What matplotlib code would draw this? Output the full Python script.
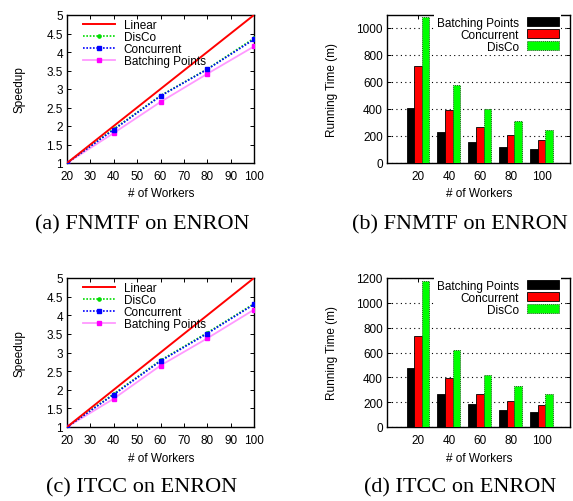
import matplotlib
matplotlib.use("Agg")
import matplotlib.pyplot as plt
import numpy as np

plt.rcParams['font.family'] = ['Liberation Sans', 'DejaVu Sans']

# ---------------- data ----------------
workers = [20, 40, 60, 80, 100]
worker_labels = ['20', '40', '60', '80', '100']

# speedup (a) FNMTF
lin_a = [1, 2, 3, 4, 5]
disco_a = [1, 1.92, 2.82, 3.54, 4.37]
conc_a = [1, 1.90, 2.81, 3.53, 4.34]
batch_a = [1, 1.81, 2.65, 3.41, 4.15]

# speedup (c) ITCC
lin_c = [1, 2, 3, 4, 5]
disco_c = [1, 1.89, 2.79, 3.53, 4.31]
conc_c = [1, 1.87, 2.77, 3.51, 4.29]
batch_c = [1, 1.76, 2.65, 3.38, 4.15]

# running time (b) FNMTF
batch_b = [406, 229, 153, 118, 101]
conc_b = [722, 389, 263, 204, 167]
disco_b = [1081, 581, 399, 308, 244]

# running time (d) ITCC
batch_d = [473, 269, 183, 140, 118]
conc_d = [734, 393, 264, 207, 175]
disco_d = [1173, 619, 422, 334, 269]

captions = ['(a) FNMTF on ENRON', '(b) FNMTF on ENRON',
            '(c) ITCC on ENRON', '(d) ITCC on ENRON']

W, H = 573, 502
fig = plt.figure(figsize=(W / 100, H / 100), dpi=100)

def rect(x0, x1, ytop, ybot):
    return [x0 / W, 1 - ybot / H, (x1 - x0) / W, (ybot - ytop) / H]

FS = 8.5

def style_ticks(ax):
    ax.tick_params(direction='in', length=3, width=0.7, top=True, right=True,
                   labelsize=FS)
    ax.tick_params(axis='x', pad=5)
    ax.tick_params(axis='y', pad=3)
    for s in ax.spines.values():
        s.set_linewidth(1.0)

def speedup(ax, lin, disco, conc, batch):
    ax.plot(workers, lin, color='#ff0000', lw=1.4, label='Linear', zorder=5)
    ax.plot(workers, disco, color='#00dd00', lw=1.2, ls=(0, (1, 1)),
            marker='o', ms=2.3, label='DisCo', zorder=4)
    ax.plot(workers, conc, color='#0000ff', lw=1.2, ls=(0, (1, 1)),
            marker='s', ms=2.3, label='Concurrent', zorder=4)
    ax.plot(workers, batch, color='#ff99ff', lw=1.3, marker='s', ms=3.5,
            mfc='#ff00ff', mec='#ff00ff', label='Batching Points', zorder=3)
    ax.set_xlim(20, 100)
    ax.set_ylim(1, 5)
    ax.set_xticks(np.arange(20, 101, 10))
    ax.set_yticks(np.arange(1, 5.01, 0.5))
    ax.set_yticklabels(['1', '1.5', '2', '2.5', '3', '3.5', '4', '4.5', '5'])
    style_ticks(ax)
    ax.set_xlabel('# of Workers', fontsize=FS)
    ax.xaxis.set_label_coords(0.505, -0.165)
    ax.set_ylabel('Speedup', fontsize=FS)
    ax.yaxis.set_label_coords(-0.222, 0.5)
    ax.legend(loc='upper left', bbox_to_anchor=(0.05, 1.02), frameon=False,
              fontsize=FS, handlelength=2.7, handletextpad=0.7,
              labelspacing=0.0, borderaxespad=0.2)

def runtime(ax, batch, conc, disco, ymax, yticks):
    x = np.arange(len(workers))
    w = 0.245
    ax.bar(x - w, batch, w, color='#000000', edgecolor='#000000', lw=0.6,
           label='Batching Points', zorder=3)
    ax.bar(x, conc, w, color='#ff0000', edgecolor='#000000', lw=0.6,
           label='Concurrent', zorder=3)
    ax.bar(x + w, disco, w, color='#00ff00', edgecolor='#1f5f1f', lw=0.7,
           ls=(0, (1, 1)), label='DisCo', zorder=3)
    ax.set_xlim(-1, 4.92)
    ax.set_ylim(0, ymax)
    ax.set_xticks(x)
    ax.set_xticklabels(worker_labels)
    ax.set_yticks(yticks)
    ax.yaxis.grid(True, color='#000000', ls=(0, (1, 3)), lw=0.8, zorder=0)
    ax.set_axisbelow(True)
    style_ticks(ax)
    ax.set_xlabel('# of Workers', fontsize=FS)
    ax.xaxis.set_label_coords(0.503, -0.165)
    ax.set_ylabel('Running Time (m)', fontsize=FS)
    ax.yaxis.set_label_coords(-0.27, 0.5)
    leg = ax.legend(loc='upper right', bbox_to_anchor=(0.965, 1.02), frameon=True,
                    fontsize=FS, markerfirst=False, handlelength=2.7,
                    handleheight=0.7, handletextpad=0.7, labelspacing=0.0,
                    borderaxespad=0.2, fancybox=False, borderpad=0.2)
    leg.get_frame().set_edgecolor('none')
    leg.get_frame().set_facecolor('white')
    leg.get_frame().set_alpha(1)

ax_a = fig.add_axes(rect(67, 254, 16, 164))
speedup(ax_a, lin_a, disco_a, conc_a, batch_a)
ax_b = fig.add_axes(rect(387, 570, 16, 164))
runtime(ax_b, batch_b, conc_b, disco_b, 1096, np.arange(0, 1001, 200))
ax_c = fig.add_axes(rect(67, 254, 279, 428))
speedup(ax_c, lin_c, disco_c, conc_c, batch_c)
ax_d = fig.add_axes(rect(387, 570, 279, 428))
runtime(ax_d, batch_d, conc_d, disco_d, 1200, np.arange(0, 1201, 200))

cap_pos = [(142, 225), (460, 225), (142, 488), (460, 488)]
for txt, (cx, cy) in zip(captions, cap_pos):
    fig.text(cx / W, 1 - cy / H, txt, ha='center', va='center', fontsize=16,
             family=['Liberation Serif', 'DejaVu Serif'])

fig.savefig('out.png', dpi=100)
